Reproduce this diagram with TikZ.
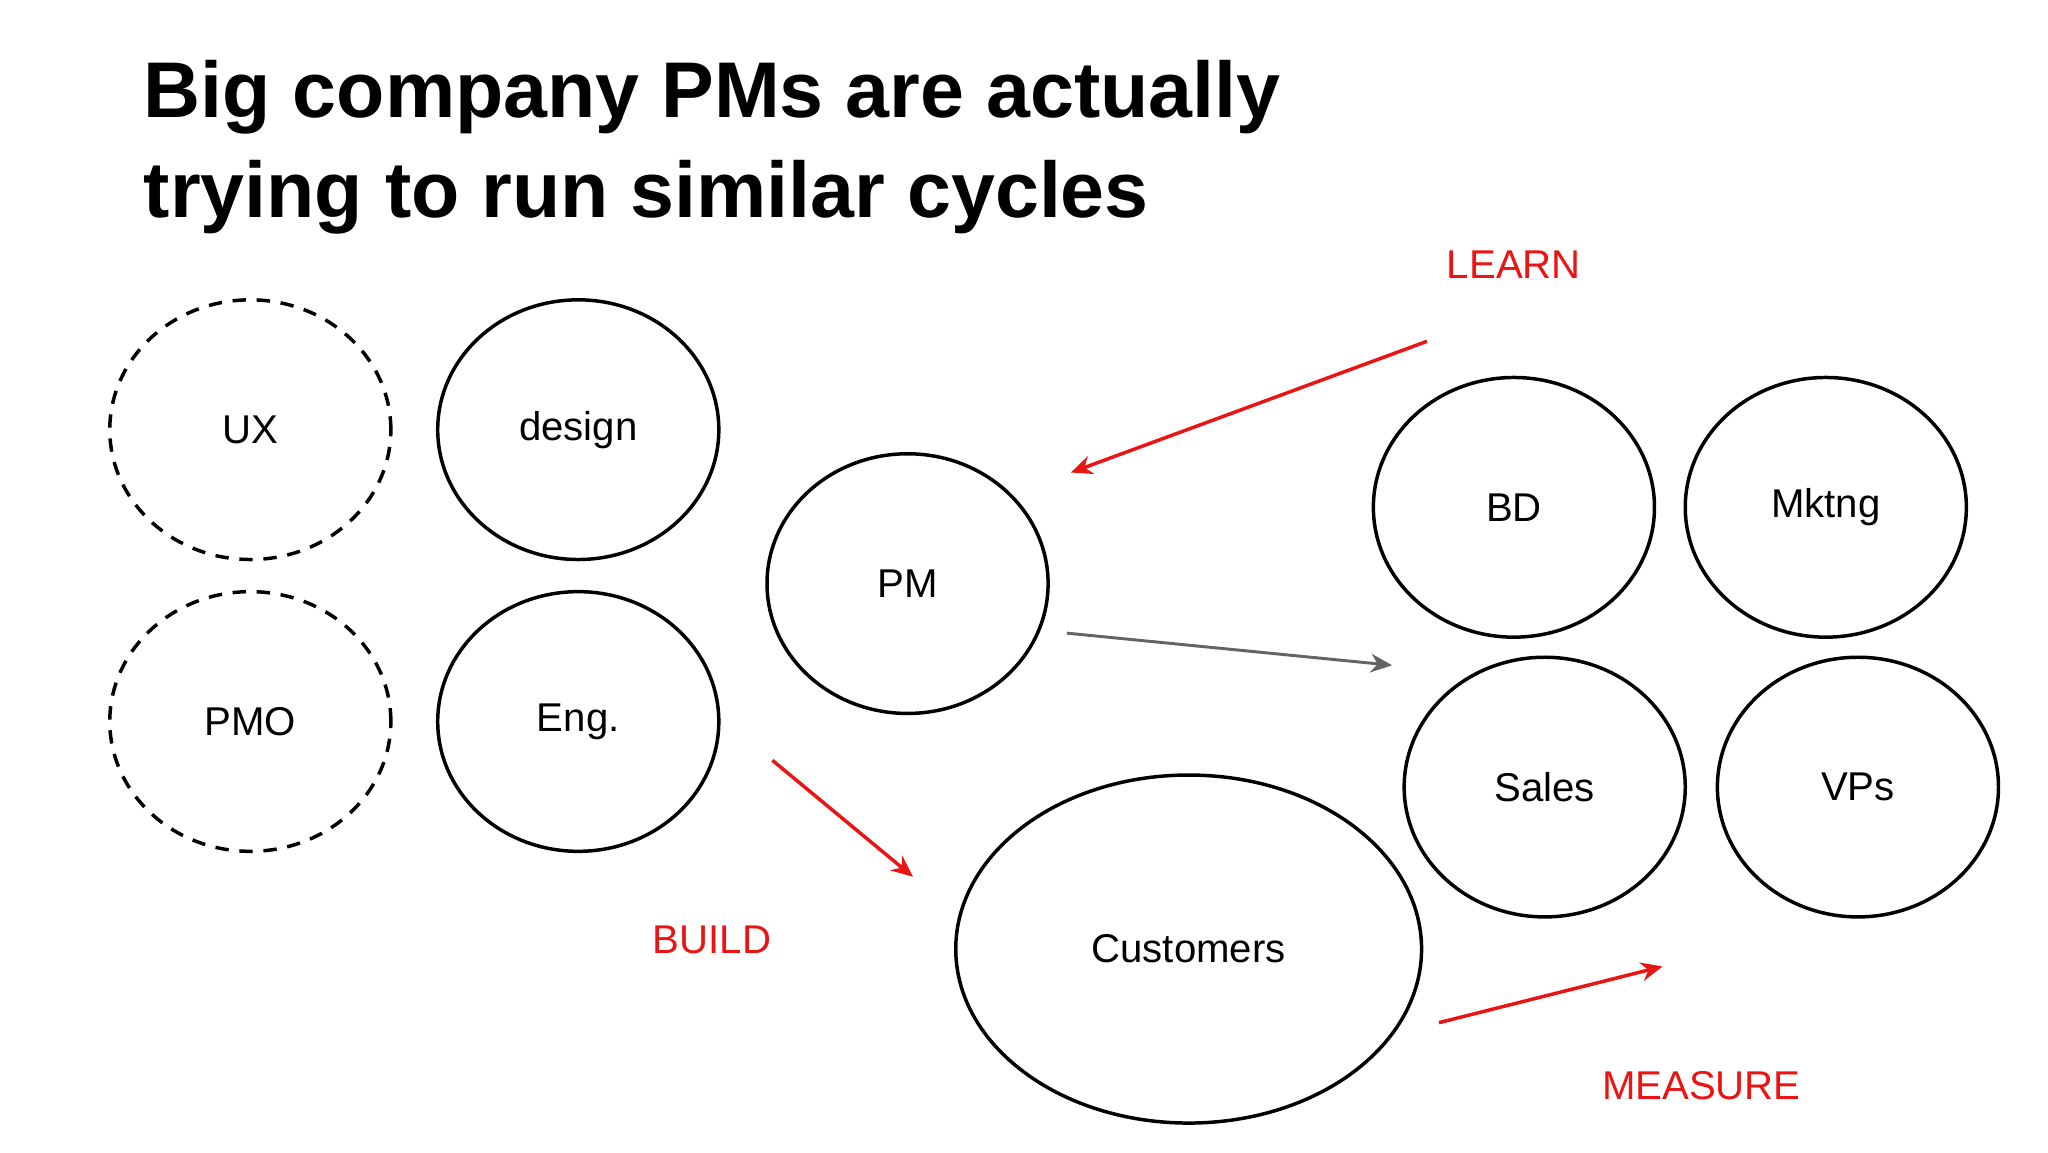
\documentclass[tikz,border=0pt]{standalone}
\usepackage{fontspec}
\setmainfont{Liberation Sans}
\usetikzlibrary{arrows.meta,shapes.geometric}
\definecolor{cred}{RGB}{235,20,20}
\definecolor{cgray}{RGB}{100,100,100}
\begin{document}
\begin{tikzpicture}[x=0.5pt,y=-0.5pt,
  team/.style={draw, line width=1.3pt, ellipse, minimum width=105pt, minimum height=97pt, font=\fontsize{15}{18}\selectfont},
  dteam/.style={team, dashed, dash pattern=on 5pt off 4pt},
  phase/.style={text=cred, font=\fontsize{15}{18}\selectfont},
  flow/.style={-{Stealth[length=8pt,width=7pt]}, line width=1.3pt, draw=cred}]
\useasboundingbox (0,0) rectangle (1530,861);
\node[anchor=north west, align=left, font=\fontsize{29.5}{37}\bfseries\selectfont, inner sep=0pt] (title) at (107,45) {Big company PMs are actually\\trying to run similar cycles};
\node[dteam] (ux) at (187,321) {UX};
\node[team] (design) at (432,321) {design};
\node[dteam] (pmo) at (187,539) {PMO};
\node[team] (eng) at (432,539) {Eng.};
\node[team] (pm) at (678,436) {PM};
\node[team] (bd) at (1131,379) {BD};
\node[team] (mk) at (1364,379) {Mktng};
\node[team] (sales) at (1154,588) {Sales};
\node[team] (vps) at (1388,588) {VPs};
\node[team, minimum width=174pt, minimum height=130pt] (cust) at (888,709) {Customers};
\node[phase] (learn) at (1131,198) {LEARN};
\node[phase] (build) at (532,702) {BUILD};
\node[phase] (measure) at (1271,811) {MEASURE};
\coordinate (l1) at (1066,255); \coordinate (l2) at (800,353);
\coordinate (g1) at (797,473); \coordinate (g2) at (1040,497);
\coordinate (b1) at (577,568); \coordinate (b2) at (682,655);
\coordinate (m1) at (1075,764); \coordinate (m2) at (1242,722);
\draw[flow] (l1) -- (l2);
\draw[flow, draw=cgray, line width=1.1pt] (g1) -- (g2);
\draw[flow] (b1) -- (b2);
\draw[flow] (m1) -- (m2);
\end{tikzpicture}
\end{document}
